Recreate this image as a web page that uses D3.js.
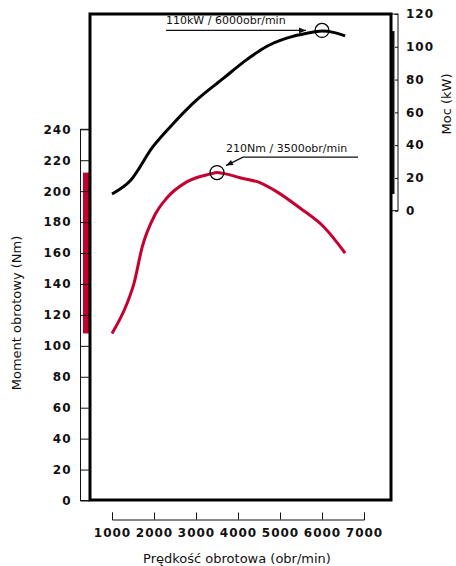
<!DOCTYPE html>
<html>
<head>
<meta charset="utf-8">
<script src="https://cdn.jsdelivr.net/npm/d3@7"></script>
<style>
  body { margin: 0; background: #fff; }
  svg { display: block; font-family: "DejaVu Sans", sans-serif; }
  .tick text { font-family: "DejaVu Sans", sans-serif; font-weight: bold; font-size: 12px; letter-spacing: 1px; fill: #111; }
  .title { font-size: 13px; fill: #111; }
  .note { font-size: 11px; fill: #111; }
</style>
</head>
<body>
<div id="chart"></div>
<script>
// engine speed (obr/min) and readings
const torqueRpm = [1000, 1360, 1520, 1720, 2020, 2300, 2780, 3330, 3500, 3650, 4050, 4520, 4920, 5480, 6040, 6550];
const torqueNm  = [108, 127.5, 140, 164, 184.6, 195.4, 206, 211, 212, 211.5, 208.7, 205.5, 199.7, 189, 177, 160];

const powerRpm = [1000, 1440, 1970, 2460, 3010, 3650, 4200, 4680, 5160, 5640, 6000, 6270, 6550];
const powerKw  = [10.2, 18.4, 38.9, 53.2, 67.4, 80.7, 92, 100.2, 105.3, 108.3, 109.6, 108.8, 106.7];

const rpmTicks = [1000, 2000, 3000, 4000, 5000, 6000, 7000];
const torqueTicks = d3.range(0, 241, 20);
const powerTicks = d3.range(0, 121, 20);

// peaks marked with a circle
const torquePeak = { rpm: 3500, value: 212, label: "210Nm / 3500obr/min" };
const powerPeak = { rpm: 6000, value: 110, label: "110kW / 6000obr/min" };

const width = 456, height = 566;
const red = "#c4002f";

const svg = d3.select("#chart").append("svg")
    .attr("width", width)
    .attr("height", height);

const x = d3.scaleLinear().domain([1000, 7000]).range([112, 364]);
const yT = d3.scaleLinear().domain([0, 240]).range([500.5, 129.3]);
const yP = d3.scaleLinear().domain([0, 120]).range([210.7, 14]);

svg.append("defs").append("marker")
    .attr("id", "arrow")
    .attr("viewBox", "0 0 10 10")
    .attr("refX", 10).attr("refY", 5)
    .attr("markerWidth", 9).attr("markerHeight", 7)
    .attr("markerUnits", "userSpaceOnUse")
    .attr("orient", "auto")
    .append("path")
    .attr("d", "M0,1 L10,5 L0,9 Z")
    .attr("fill", "#111");

// left torque scale box
svg.append("rect")
    .attr("x", 80.5).attr("y", yT(240))
    .attr("width", 9).attr("height", yT(0) - yT(240))
    .attr("fill", "#fff").attr("stroke", "#111");

const tExt = d3.extent(torqueNm);
svg.append("rect")
    .attr("x", 83).attr("y", yT(tExt[1]))
    .attr("width", 6).attr("height", yT(tExt[0]) - yT(tExt[1]))
    .attr("fill", red);

const leftAxis = svg.append("g")
    .attr("transform", "translate(80.5,0)")
    .call(d3.axisLeft(yT).tickValues(torqueTicks).tickSize(-9).tickPadding(9));
leftAxis.select(".domain").remove();
leftAxis.selectAll(".tick line").attr("stroke", "#111");

// right power scale box
svg.append("rect")
    .attr("x", 391).attr("y", yP(120))
    .attr("width", 7).attr("height", yP(0) - yP(120))
    .attr("fill", "#fff").attr("stroke", "#111");

const pExt = d3.extent(powerKw);
svg.append("rect")
    .attr("x", 390).attr("y", yP(pExt[1]))
    .attr("width", 4.5).attr("height", yP(pExt[0]) - yP(pExt[1]))
    .attr("fill", "#111");

const rightAxis = svg.append("g")
    .attr("transform", "translate(398,0)")
    .call(d3.axisRight(yP).tickValues(powerTicks).tickSize(-3).tickPadding(8));
rightAxis.select(".domain").remove();
rightAxis.selectAll(".tick line").attr("stroke", "#111");

// main frame
svg.append("rect")
    .attr("x", 90).attr("y", 14)
    .attr("width", 301).attr("height", 486)
    .attr("fill", "none")
    .attr("stroke", "#000")
    .attr("stroke-width", 3);

// bottom axis
const bottomAxis = svg.append("g")
    .attr("transform", "translate(0,519.5)")
    .call(d3.axisBottom(x).tickValues(rpmTicks).tickFormat(d3.format("d"))
        .tickSize(-7).tickSizeOuter(-7).tickPadding(9));
bottomAxis.selectAll(".domain, .tick line").attr("stroke", "#111");

// curves
const powerLine = d3.line()
    .x((d, i) => x(powerRpm[i]))
    .y(d => yP(d))
    .curve(d3.curveMonotoneX);

const torqueLine = d3.line()
    .x((d, i) => x(torqueRpm[i]))
    .y(d => yT(d))
    .curve(d3.curveMonotoneX);

svg.append("path")
    .attr("d", powerLine(powerKw))
    .attr("fill", "none")
    .attr("stroke", "#000")
    .attr("stroke-width", 3);

svg.append("path")
    .attr("d", torqueLine(torqueNm))
    .attr("fill", "none")
    .attr("stroke", red)
    .attr("stroke-width", 3);

// power annotation
const pcx = x(powerPeak.rpm), pcy = yP(powerPeak.value);
svg.append("circle")
    .attr("cx", pcx).attr("cy", pcy).attr("r", 7)
    .attr("fill", "none").attr("stroke", "#000").attr("stroke-width", 1.3);
svg.append("line")
    .attr("x1", pcx - 156).attr("y1", pcy)
    .attr("x2", pcx - 16).attr("y2", pcy)
    .attr("stroke", "#111").attr("stroke-width", 1.3)
    .attr("marker-end", "url(#arrow)");
svg.append("text")
    .attr("class", "note")
    .attr("x", pcx - 156).attr("y", pcy - 6)
    .text(powerPeak.label);

// torque annotation
const tcx = x(torquePeak.rpm), tcy = yT(torquePeak.value);
svg.append("circle")
    .attr("cx", tcx).attr("cy", tcy).attr("r", 7)
    .attr("fill", "none").attr("stroke", "#000").attr("stroke-width", 1.3);
svg.append("polyline")
    .attr("points", [[tcx + 141, tcy - 15.5], [tcx + 26, tcy - 15.5], [tcx + 9, tcy - 7]].join(" "))
    .attr("fill", "none")
    .attr("stroke", "#111").attr("stroke-width", 1.3)
    .attr("marker-end", "url(#arrow)");
svg.append("text")
    .attr("class", "note")
    .attr("x", tcx + 9).attr("y", tcy - 21)
    .text(torquePeak.label);

// axis titles
svg.append("text")
    .attr("class", "title")
    .attr("transform", "translate(21,313) rotate(-90)")
    .attr("text-anchor", "middle")
    .text("Moment obrotowy (Nm)");

svg.append("text")
    .attr("class", "title")
    .attr("transform", "translate(451,104) rotate(-90)")
    .attr("text-anchor", "middle")
    .text("Moc (kW)");

svg.append("text")
    .attr("class", "title")
    .attr("x", 237).attr("y", 563)
    .attr("text-anchor", "middle")
    .text("Prędkość obrotowa (obr/min)");
</script>
</body>
</html>
